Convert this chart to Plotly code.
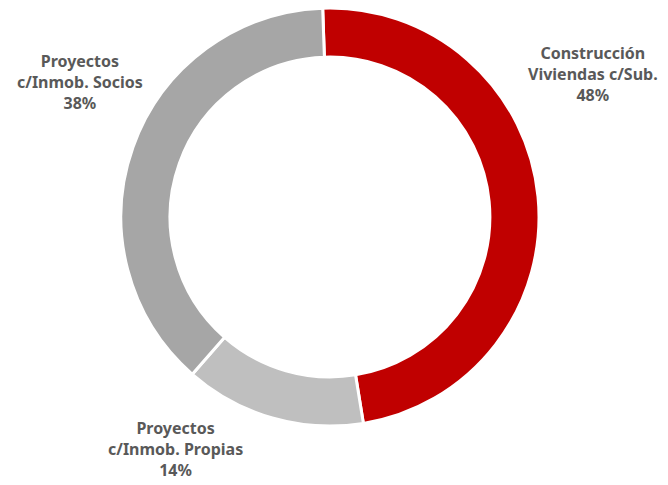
import plotly.graph_objects as go

labels = ["Construcción<br>Viviendas c/Sub.", "Proyectos<br>c/Inmob. Propias", "Proyectos<br>c/Inmob. Socios"]
values = [48, 14, 38]
colors = ["#C00000", "#BFBFBF", "#A6A6A6"]

# label anchor positions (paper coords)
label_x = [0.875, 0.25, 0.108]
label_y = [0.863, 0.091, 0.847]

fig = go.Figure()
fig.add_trace(go.Pie(
    labels=labels, values=values, sort=False, direction="clockwise",
    rotation=-2, hole=0.765,
    marker=dict(colors=colors, line=dict(color="white", width=3)),
    textinfo="none", hoverinfo="label+percent",
    domain=dict(x=[0.169, 0.795], y=[0.138, 1.0]),
    showlegend=False,
))

for lab, v, x, y in zip(labels, values, label_x, label_y):
    fig.add_annotation(
        x=x, y=y, xref="paper", yref="paper", xanchor="center", yanchor="middle",
        text=f"<b>{lab}<br>{v}%</b>", showarrow=False, align="center",
        font=dict(family="Noto Sans", size=16, color="#595959"),
    )

fig.update_layout(
    width=668, height=485, margin=dict(l=0, r=0, t=0, b=0),
    paper_bgcolor="white", plot_bgcolor="white",
)
fig.write_html("out.html")
